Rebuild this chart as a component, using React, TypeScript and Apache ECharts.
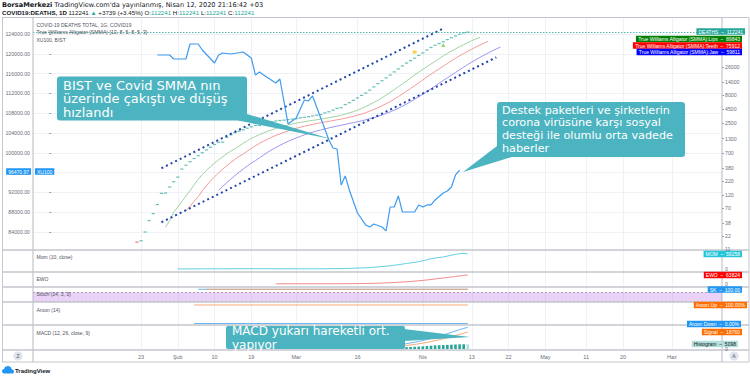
import React, { useEffect, useRef } from "react";
import * as echarts from "echarts";

// ---------- DATA ----------
const xTickDates = ["2020-01-23","2020-02-01","2020-02-10","2020-02-19","2020-03-01","2020-03-16","2020-04-01","2020-04-13","2020-04-22","2020-05-01","2020-05-11","2020-05-20","2020-06-01"];
const xTickLabels = ["23","Şub","10","19","Mar","16","Nis","13","22","May","11","20","Haz"];
const leftTicks = [84000, 88000, 92000, 96000, 100000, 104000, 108000, 112000, 116000, 120000, 124000];
const rightTicks = [22, 38, 70, 120, 220, 380, 700, 1300, 2500, 4500, 8000, 14000, 26000];

const xuDates = ["2020-01-27","2020-01-30","2020-01-31","2020-02-03","2020-02-04","2020-02-06","2020-02-07","2020-02-10","2020-02-11","2020-02-12","2020-02-14","2020-02-17","2020-02-19","2020-02-20","2020-02-21","2020-02-22","2020-02-25","2020-02-26","2020-02-28","2020-03-01","2020-03-03","2020-03-04","2020-03-05","2020-03-09","2020-03-10","2020-03-11","2020-03-12","2020-03-13","2020-03-14","2020-03-16","2020-03-18","2020-03-19","2020-03-20","2020-03-22","2020-03-23","2020-03-24","2020-03-25","2020-03-26","2020-03-27","2020-03-30","2020-03-31","2020-04-01","2020-04-02","2020-04-03","2020-04-04","2020-04-06","2020-04-07","2020-04-08","2020-04-09","2020-04-10"];
const xuValues = [119760,119760,118950,118950,121980,121980,120770,118140,119760,120160,119960,120360,119150,115720,116320,115720,114100,114910,105820,107030,110670,110470,111480,102590,100970,100770,93500,95320,92490,87840,85420,85010,85620,85010,84210,89050,89050,91280,88040,88040,89460,89050,89460,89460,90470,91880,92290,93090,95520,96470.97];

const deathsStart = "2020-01-22";
const deaths = [17,18,26,42,56,82,131,133,171,213,259,362,426,492,564,634,719,806,906,1013,1113,1118,1371,1523,1666,1770,1868,2007,2122,2247,2251,2458,2469,2629,2708,2770,2814,2872,2941,2996,3085,3160,3254,3348,3460,3558,3802,3988,4262,4615,4720,5404,5819,6440,7126,7905,8733,9867,11299,12973,14623,16497,18615,21181,23970,27198,30652,33925,37582,42107,46809,52983,58787,64606,69374,74565,81865,88338,95455,102525,108502,112241];

const lipsStart = "2020-01-29";
const lips = [31.8,41.8,59.6,74.3,93.6,117.5,145.8,189.0,236.4,287.5,342.8,401.0,464.6,532.9,607.5,688.6,773.5,842.4,948.1,1063.1,1183.7,1301.0,1414.4,1532.9,1650.7,1770.0,1866.2,1984.6,2081.5,2191.0,2294.4,2389.5,2474.4,2553.9,2631.3,2704.2,2780.4,2856.3,2935.8,3018.2,3106.6,3196.9,3317.9,3451.9,3613.9,3814.1,3995.3,4277.0,4585.4,4956.3,5390.2,5893.2,6461.2,7142.4,7973.7,8973.6,10103.5,11382.2,12828.8,14499.2,16393.4,18554.3,20973.8,23564.0,26367.6,29515.5,32974.2,36976.0,41338.2,45991.8,50668.2,55447.6,60731.1,66252.5,72093.0,78179.4,84243.9,89843];

const teethStart = "2020-02-03";
const teeth = [63.1,76.6,93.7,114.4,145.4,180.5,219.4,262.5,309.0,360.3,416.0,477.3,544.3,615.4,678.2,764.8,859.6,960.4,1061.6,1162.4,1267.9,1374.7,1483.7,1579.6,1689.4,1786.8,1892.1,1994.1,2091.1,2181.5,2267.8,2351.9,2432.4,2514.0,2594.8,2677.2,2761.1,2848.5,2937.2,3045.3,3163.1,3300.5,3464.8,3621.7,3844.5,4091.3,4384.9,4727.5,5124.7,5575.7,6112.1,6760.5,7537.1,8422.8,9432.1,10579.8,11904.9,13413.0,15136.1,17075.6,19181.8,21481.8,24059.9,26903.5,30163.4,33741.3,37599.4,41571.1,45695.3,50216.5,54981.7,60040.8,65351.3,70745.1,75912];

const jawStart = "2020-02-11";
const jaw = [148.9,175.3,205.2,238.2,275.2,316.0,361.4,411.5,465.5,515.7,581.5,653.9,731.8,811.7,892.9,978.6,1066.6,1157.4,1241.5,1335.1,1422.3,1515.1,1606.8,1696.2,1782.2,1866.0,1948.7,2029.3,2110.5,2191.2,2272.9,2355.6,2440.5,2526.5,2624.6,2729.5,2847.4,2983.4,3116.9,3292.8,3487.1,3714.3,3976.7,4278.8,4621.4,5024.9,5507.5,6081.8,6738.8,7489.4,8345.2,9332.6,10458.5,11746.2,13200.5,14794.7,16547.5,18513.6,20690.2,23174.2,25913.6,28889.9,32004.0,35277.9,38861.5,42667.4,46727.9,51019.8,55441.5,59811];

const channelUpperDates = ["2020-01-28", "2020-04-06"];
const channelUpperValues = [96874, 125111];
const channelLowerDates = ["2020-01-28", "2020-04-19"];
const channelLowerValues = [85966, 119293];

const momStart = "2020-02-01";
const mom = [242,344,400,450,508,552,588,673,735,800,854,756,945,1031,1102,1136,1149,1201,1216,1234,1138,1340,1098,1106,1042,1000,946,865,819,749,834,702,785,719,752,788,988,1116,1321,1619,1635,2244,2565,3092,3666,4347,4931,5879,7037,8358,9903,11093,12796,14741,16844,19293,21919,24058,26283,29134,32186,36486,40172,43425,45404,47367,51213,54413,57873,60418,61693,59258];

const ewoDates = ["2020-02-25","2020-02-26","2020-02-27","2020-02-28","2020-02-29","2020-03-01","2020-03-06","2020-03-11","2020-03-16","2020-03-17","2020-03-18","2020-03-19","2020-03-20","2020-03-21","2020-03-22","2020-03-23","2020-03-24","2020-03-25","2020-03-26","2020-03-27","2020-03-28","2020-03-29","2020-03-30","2020-03-31","2020-04-01","2020-04-02","2020-04-03","2020-04-04","2020-04-05","2020-04-06","2020-04-07","2020-04-08","2020-04-09","2020-04-10","2020-04-11","2020-04-12"];
const ewoValues = [1463,1488,1480,1479,1459,1432,1370,1636,2766,3209,3657,4224,4917,5763,6739,7874,9149,10581,12160,13962,15987,18151,20432,22934,25598,28631,32006,35648,39205,42714,46242,49721,53259,57059,60848,63824];

const stochKDates = ["2020-02-06", "2020-04-12"];
const stochKValues = [100, 100];
const stochDDates = ["2020-02-08", "2020-04-12"];
const stochDValues = [100, 100];
const aroonDates = ["2020-02-05", "2020-04-12"];
const aroonUpValues = [100, 100];
const aroonDownValues = [0, 0];

const macdStart = "2020-02-16";
const macd = [565.6,579.7,595.1,609.6,624.0,628.5,641.4,645.1,653.4,658.7,660.3,657.5,652.5,646.6,639.1,633.0,627.0,622.6,619.6,619.1,619.5,632.2,649.8,678.1,720.6,754.0,826.2,906.5,1008.6,1131.8,1277.6,1443.3,1647.1,1902.3,2214.1,2564.8,2959.8,3404.5,3918.8,4499.6,5160.9,5895.7,6665.3,7484.1,8401.3,9399.3,10566.5,11823.6,13138.0,14398.5,15636.1,17009.8,18408.7,19862.6,21339.5,22730.2,23858];
const signalStart = "2020-02-24";
const signal = [615.8,624.4,631.6,636.8,639.9,641.2,640.8,639.2,636.8,634.0,631.1,628.7,626.9,628.0,632.4,641.5,657.3,676.6,706.5,746.5,798.9,865.5,947.9,1047.0,1167.0,1314.1,1494.1,1708.2,1958.5,2247.7,2581.9,2965.4,3404.5,3902.7,4455.2,5061.0,5729.1,6463.1,7283.8,8191.8,9181.0,10224.5,11306.8,12447.4,13639.7,14884.3,16175.3,17486.3,18760];
const histogram = [37.6,34.3,28.7,20.7,12.6,5.4,-1.7,-6.2,-9.8,-11.4,-11.5,-9.6,-7.4,4.2,17.4,36.6,63.3,77.4,119.7,160.0,209.7,266.3,329.7,396.3,480.1,588.2,720.0,856.6,1001.3,1156.8,1336.9,1534.2,1756.4,1993.0,2210.1,2423.1,2672.2,2936.2,3282.7,3631.8,3957.0,4174.0,4329.3,4562.4,4769.0,4978.3,5164.2,5243.9,5098];

const markerDates = ["2020-03-30", "2020-04-06"];
const markerValues = [48600, 65300];

// ---------- HELPERS ----------
const DAY0 = Date.UTC(2020, 0, 1);
function dayOf(s: string): number {
  const [y, m, d] = s.split("-").map(Number);
  return Math.round((Date.UTC(y, m - 1, d) - DAY0) / 86400000);
}
function seq(start: string, values: number[]): number[][] {
  const d0 = dayOf(start);
  return values.map((v, i) => [d0 + i, v]);
}
function pairs(dates: string[], values: number[]): number[][] {
  return dates.map((d, i) => [dayOf(d), values[i]]);
}

const FONT = "'Liberation Sans', Arial, sans-serif";
const CFONT = "'DejaVu Sans', Verdana, sans-serif";
const X_MIN = -4.45;
const X_MAX = 164.25;
const xTickDays = xTickDates.map(dayOf);
const AXIS_TXT = "#6b6e79";
const GRID_LINE = "#eef1f6";
const CALLOUT = "#4cb4c0";

function buildOption(): any {
  const grids = [
    { top: 18, height: 232 },
    { top: 250, height: 22 },
    { top: 272, height: 15 },
    { top: 287, height: 15 },
    { top: 302, height: 23 },
    { top: 325, height: 25 },
  ].map((g) => ({ left: 33, right: 28, top: g.top, height: g.height, containLabel: false }));

  const xAxes = grids.map((_, i) => ({
    type: "value",
    gridIndex: i,
    min: X_MIN,
    max: X_MAX,
    axisLine: { show: false },
    axisTick: { show: false, customValues: xTickDays },
    axisLabel: {
      show: i === 5,
      customValues: xTickDays,
      formatter: (v: number) => {
        const k = xTickDays.indexOf(v);
        return k >= 0 ? xTickLabels[k] : "";
      },
      fontSize: 5.5,
      color: AXIS_TXT,
      margin: 4,
      fontFamily: FONT,
    },
    splitLine: { show: true, lineStyle: { color: GRID_LINE, width: 1 } },
  }));

  const hidden = (gi: number, min: number, max: number) => ({
    type: "value", gridIndex: gi, min, max, position: "right",
    axisLine: { show: false }, axisTick: { show: false }, axisLabel: { show: false }, splitLine: { show: false },
  });

  const yAxes = [
    {
      type: "value", gridIndex: 0, position: "left", min: 80360, max: 127230,
      axisLine: { show: false },
      axisTick: { show: true, customValues: leftTicks, length: 2, lineStyle: { color: "#9a9da6" } },
      axisLabel: { customValues: leftTicks, formatter: (v: number) => v.toFixed(2), fontSize: 5.2, color: AXIS_TXT, margin: 3, fontFamily: FONT },
      splitLine: { show: true, lineStyle: { color: GRID_LINE } },
    },
    {
      type: "log", logBase: 10, gridIndex: 0, position: "right", min: 12.24, max: 202200,
      axisLine: { show: false },
      axisTick: { show: true, customValues: rightTicks, length: 2, lineStyle: { color: "#9a9da6" } },
      axisLabel: { customValues: rightTicks, fontSize: 5.2, color: AXIS_TXT, margin: 3, fontFamily: FONT, formatter: (v: number) => String(Math.round(v)) },
      splitLine: { show: false },
    },
    hidden(1, -11850, 75050),
    hidden(2, -21300, 85100),
    hidden(3, 15.3, 115.3),
    hidden(4, -8.1, 116.2),
    hidden(5, -1103, 26470),
  ];

  const deathData = seq(deathsStart, deaths).map((p, i) => ({
    value: p,
    itemStyle: { color: i === 0 ? "#ef5350" : "#3fb0a5" },
  }));

  const histData = seq(signalStart, histogram).map((p, i) => {
    const v = p[1];
    const prev = i > 0 ? histogram[i - 1] : v;
    const color = v >= 0 ? (v >= prev ? "#26a69a" : "#b2dfdb") : (v < prev ? "#ff5252" : "#ffcdd2");
    return { value: p, itemStyle: { color } };
  });

  const line = (name: string, xi: number, yi: number, data: number[][], color: string, width = 1, extra: any = {}) => ({
    name, type: "line", xAxisIndex: xi, yAxisIndex: yi, data, symbol: "none", silent: true,
    lineStyle: { color, width }, itemStyle: { color }, ...extra,
  });

  const series: any[] = [
    line("Jaw", 0, 1, seq(jawStart, jaw), "#9c95f7", 1),
    line("Teeth", 0, 1, seq(teethStart, teeth), "#f59a9a", 1),
    line("Lips", 0, 1, seq(lipsStart, lips), "#9fd39f", 1),
    {
      name: "DEATHS", type: "scatter", xAxisIndex: 0, yAxisIndex: 1, symbol: "rect", symbolSize: [3.2, 1.2],
      data: deathData, silent: true,
      markLine: {
        silent: true, symbol: "none", label: { show: false },
        lineStyle: { color: "#26a69a", type: [1.5, 1.5], width: 0.8 },
        data: [{ yAxis: deaths[deaths.length - 1] }],
      },
    },
    {
      name: "markers", type: "scatter", xAxisIndex: 0, yAxisIndex: 1, silent: true,
      data: [
        { value: pairs(markerDates, markerValues)[0], symbol: "rect", symbolSize: [4, 3], itemStyle: { color: "#f5c518" } },
        { value: pairs(markerDates, markerValues)[1], symbol: "triangle", symbolSize: [4, 4], itemStyle: { color: "#7cc84a" } },
      ],
    },
    line("XU100", 0, 0, pairs(xuDates, xuValues), "#3d9bf0", 1.2, { z: 5 }),
    line("ChannelUpper", 0, 0, pairs(channelUpperDates, channelUpperValues), "#2146a8", 2, { lineStyle: { color: "#2146a8", width: 2, type: [2, 3.1] } }),
    line("ChannelLower", 0, 0, pairs(channelLowerDates, channelLowerValues), "#2146a8", 2, { lineStyle: { color: "#2146a8", width: 2, type: [2, 3.1] } }),
    line("Mom", 1, 2, seq(momStart, mom), "#4fc9dc", 0.9),
    line("EWO", 2, 3, pairs(ewoDates, ewoValues), "#f07a7a", 0.9),
    line("%K", 3, 4, pairs(stochKDates, stochKValues), "#5aaef2", 0.9, {
      markArea: { silent: true, itemStyle: { color: "rgba(186, 104, 230, 0.3)" }, data: [[{ yAxis: 80 }, { yAxis: 20 }]] },
      markLine: { silent: true, symbol: "none", label: { show: false }, lineStyle: { color: "#8e8a96", type: [2, 2], width: 0.7 }, data: [{ yAxis: 80 }, { yAxis: 20 }] },
    }),
    line("%D", 3, 4, pairs(stochDDates, stochDValues), "#f5a267", 0.9),
    line("Aroon Up", 4, 5, pairs(aroonDates, aroonUpValues), "#f5a267", 0.9),
    line("Aroon Down", 4, 5, pairs(aroonDates, aroonDownValues), "#5aaef2", 0.9),
    { name: "Histogram", type: "bar", xAxisIndex: 5, yAxisIndex: 6, data: histData, barWidth: 2.6, silent: true },
    line("MACD", 5, 6, seq(macdStart, macd), "#5aaef2", 0.9),
    line("Signal", 5, 6, seq(signalStart, signal), "#f5a267", 0.9),
  ];

  const txt = (text: string, x: number, y: number, o: any = {}) => ({
    type: "text", z: 50, silent: true,
    style: { text, x, y, fontSize: 5.2, fill: AXIS_TXT, fontFamily: FONT, verticalAlign: "middle", ...o },
  });
  const tag = (text: string, xr: number, y: number, bg: string, fg = "#ffffff") =>
    txt(text, xr, y, { align: "right", fill: fg, backgroundColor: bg, padding: [1, 2, 0.5, 2], fontSize: 5 });
  const hline = (y: number, x1: number, x2: number, color: string, w = 1) => ({
    type: "line", z: 40, silent: true, shape: { x1, y1: y, x2, y2: y }, style: { stroke: color, lineWidth: w },
  });
  const vline = (x: number, y1: number, y2: number, color: string, w = 1) => ({
    type: "line", z: 40, silent: true, shape: { x1: x, y1, x2: x, y2 }, style: { stroke: color, lineWidth: w },
  });
  const callText = (lines: string[], x: number, y0: number, size: number, lh: number) =>
    lines.map((t, i) => ({
      type: "text", z: 61, silent: true,
      style: { text: t, x, y: y0 + i * lh, fontSize: size, fill: "#ffffff", fontFamily: CFONT, verticalAlign: "middle" },
    }));

  const SEP = "#c3c6ce";
  const graphic: any[] = [
    // header
    txt("{b|BorsaMerkezi} TradingView.com'da yayınlanmış, Nisan 12, 2020 21:16:42 +03", 2, 4.5, {
      fontSize: 6.6, fill: "#131722", fontFamily: CFONT,
      rich: { b: { fontWeight: "bold", fontSize: 6.6, fill: "#131722", fontFamily: CFONT } },
    }),
    txt("{b|COVID19:DEATHS, 1D} 112241 {g|▲} +3739 (+3.45%) O:{g|112241} H:{g|112241} L:{g|112241} C:{g|112241}", 2, 12, {
      fontSize: 6.2, fill: "#131722",
      rich: { b: { fontWeight: "bold", fontSize: 6.2, fontFamily: FONT, fill: "#131722" }, g: { fontSize: 6.2, fontFamily: FONT, fill: "#26a69a" } },
    }),
    // frame
    hline(17.5, 2, 749, SEP, 1),
    hline(362, 2, 749, SEP, 1),
    vline(2.5, 17.5, 362, SEP, 1),
    vline(749, 17.5, 362, SEP, 1),
    vline(33, 17.5, 362, "#b6b9c1", 1),
    vline(722, 17.5, 362, "#b6b9c1", 1),
    hline(250, 2, 749, SEP, 1.6),
    hline(272, 2, 749, SEP, 1.6),
    hline(287, 2, 749, SEP, 1.6),
    hline(302, 2, 749, SEP, 1.6),
    hline(325, 2, 749, SEP, 1.6),
    hline(350, 2, 749, SEP, 1.6),
    // legends
    txt("COVID-19 DEATHS TOTAL, 1G, COVID19", 36.5, 25, { fontSize: 5, fill: "#50535e" }),
    txt("True Williams Alligator (SMMA) [13, 8, 5, 8, 5, 3]", 36.5, 32.3, { fontSize: 5.2, fill: "#50535e" }),
    txt("XU100, BIST", 36.5, 39.5, { fontSize: 5, fill: "#50535e" }),
    txt("Mom (10, close)", 36.5, 257, { fontSize: 5, fill: "#50535e" }),
    txt("EWO", 36.5, 279, { fontSize: 5, fill: "#50535e" }),
    txt("Stoch (14, 3, 3)", 36.5, 294, { fontSize: 5, fill: "#50535e" }),
    txt("Aroon (14)", 36.5, 309.5, { fontSize: 5, fill: "#50535e" }),
    txt("MACD (12, 26, close, 9)", 36.5, 333, { fontSize: 5, fill: "#50535e" }),
    // left price tag
    tag("96470.97", 31, 171.5, "#2196f3"),
    txt("XU100", 35, 171.5, { fill: "#ffffff", backgroundColor: "#2196f3", padding: [1, 2, 0.5, 2], fontSize: 5 }),
    // right tags
    tag("DEATHS  –  112241", 745, 31.5, "#26a69a"),
    tag("True Williams Alligator (SMMA):Lips  –  89843", 742, 39, "#008000"),
    tag("True Williams Alligator (SMMA):Teeth  –  75912", 742, 45.5, "#ff0000"),
    tag("True Williams Alligator (SMMA):Jaw  –  59811", 742, 52, "#0000ff"),
    txt("11", 725, 248.5),
    tag("MOM  –  59258", 742, 254, "#26c6da"),
    txt("0", 725, 269),
    tag("EWO  –  63824", 742, 275, "#ff0000"),
    txt("0", 725, 284),
    tag("SK  –  100.00", 742, 289.5, "#2196f3"),
    tag("Aroon Up  –  100.00%", 747, 305, "#ff6d00"),
    tag("Aroon Down  –  0.00%", 741, 324, "#2196f3"),
    tag("Signal  –  18760", 742, 332, "#ff6d00"),
    tag("Histogram  –  5098", 738, 344, "#b2dfdb", "#131722"),
    txt("0", 725, 349),
    // bottom buttons
    { type: "circle", z: 50, silent: true, shape: { cx: 18, cy: 356, r: 4.6 }, style: { fill: "#e0e3eb" } },
    txt("Z", 18, 356.3, { align: "center", fontSize: 5, fill: "#50535e" }),
    { type: "circle", z: 50, silent: true, shape: { cx: 734, cy: 356, r: 4.6 }, style: { fill: "#e0e3eb" } },
    txt("A", 734, 356.3, { align: "center", fontSize: 5, fill: "#50535e" }),
    // logo
    { type: "tvcloud", z: 50, silent: true, x: 2, y: 366, scaleX: 0.5, scaleY: 0.5, style: { fill: "#2196f3" } },
    txt("TradingView", 15, 370.5, { fontSize: 6, fill: "#131722", fontWeight: "bold" }),
    // callout 1
    { type: "polygon", z: 60, silent: true, shape: { points: [[238, 120.5], [247, 114], [331, 139]] }, style: { fill: CALLOUT } },
    { type: "rect", z: 60, silent: true, shape: { x: 57, y: 76.5, width: 190, height: 44, r: 3 }, style: { fill: CALLOUT } },
    ...callText(["BIST ve Covid SMMA nın", "üzerinde çakıştı ve düşüş", "hızlandı"], 63, 85, 13, 13.6),
    // callout 2
    { type: "polygon", z: 60, silent: true, shape: { points: [[497, 146], [512, 157], [463, 172]] }, style: { fill: CALLOUT } },
    { type: "rect", z: 60, silent: true, shape: { x: 497, y: 102, width: 188, height: 55, r: 3 }, style: { fill: CALLOUT } },
    ...callText(["Destek paketleri ve şirketlerin", "corona virüsüne karşı sosyal", "desteği ile olumlu orta vadede", "haberler"], 502, 110, 11.2, 12.9),
    // callout 3
    { type: "polygon", z: 60, silent: true, shape: { points: [[404, 329], [404, 341], [470, 337]] }, style: { fill: CALLOUT } },
    { type: "rect", z: 60, silent: true, shape: { x: 226, y: 326, width: 179, height: 23, r: 2 }, style: { fill: CALLOUT } },
    ...callText(["MACD yukarı hareketli ort.", "yapıyor"], 232, 331.3, 12, 13.6),
  ];

  return {
    animation: false,
    backgroundColor: "#ffffff",
    textStyle: { fontFamily: FONT },
    grid: grids,
    xAxis: xAxes,
    yAxis: yAxes,
    series,
    graphic,
  };
}

const CLOUD_D = "M5 15C2.2 15 0 13 0 10.5C0 8.2 1.8 6.3 4.1 6.1C5 2.6 8.1 0 11.8 0C15.7 0 18.9 2.9 19.4 6.7C22 7 24 9.1 24 11.6C24 14.4 21.8 15 19 15Z";
let registered = false;
function registerShapes() {
  if (registered) return;
  registered = true;
  echarts.graphic.registerShape("tvcloud", echarts.graphic.extendPath(CLOUD_D, {}) as any);
}

export default function App() {
  const ref = useRef<HTMLDivElement>(null);
  useEffect(() => {
    registerShapes();
    const chart = echarts.init(ref.current!, null, { renderer: "svg" });
    chart.setOption(buildOption());
    return () => chart.dispose();
  }, []);
  return (
    <div
      ref={ref}
      style={{ position: "fixed", left: 0, top: 0, width: 750, height: 378, background: "#ffffff" }}
    />
  );
}
